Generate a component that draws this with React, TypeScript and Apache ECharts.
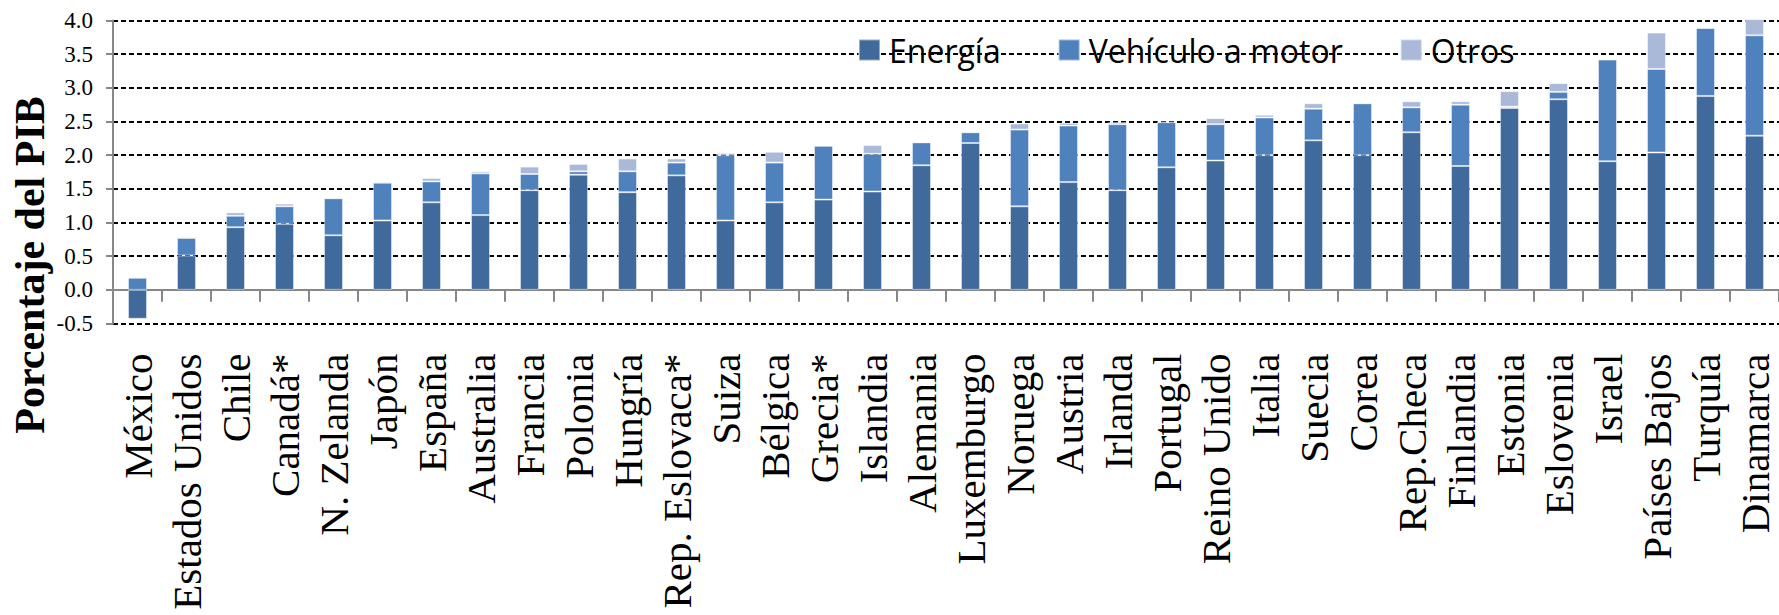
import React, { useEffect, useRef } from "react";
import * as echarts from "echarts";

// Countries ordered by total environmental tax revenue (% of GDP)
const categories = [
  "México",
  "Estados Unidos",
  "Chile",
  "Canadá*",
  "N. Zelanda",
  "Japón",
  "España",
  "Australia",
  "Francia",
  "Polonia",
  "Hungría",
  "Rep. Eslovaca*",
  "Suiza",
  "Bélgica",
  "Grecia*",
  "Islandia",
  "Alemania",
  "Luxemburgo",
  "Noruega",
  "Austria",
  "Irlanda",
  "Portugal",
  "Reino Unido",
  "Italia",
  "Suecia",
  "Corea",
  "Rep.Checa",
  "Finlandia",
  "Estonia",
  "Eslovenia",
  "Israel",
  "Países Bajos",
  "Turquía",
  "Dinamarca",
];

const energia = [
  -0.43, 0.51, 0.93, 0.98, 0.81, 1.03, 1.3, 1.11, 1.48, 1.71, 1.45, 1.7, 1.03,
  1.3, 1.34, 1.46, 1.85, 2.18, 1.24, 1.6, 1.48, 1.82, 1.92, 2.0, 2.22, 2.0,
  2.34, 1.84, 2.7, 2.83, 1.91, 2.04, 2.88, 2.29,
];

const vehiculo = [
  0.18, 0.26, 0.17, 0.26, 0.55, 0.56, 0.31, 0.62, 0.24, 0.05, 0.31, 0.19, 0.97,
  0.59, 0.8, 0.56, 0.34, 0.16, 1.14, 0.84, 0.98, 0.67, 0.54, 0.56, 0.47, 0.77,
  0.37, 0.91, 0.02, 0.11, 1.51, 1.24, 1.01, 1.49,
];

const otros = [
  0, 0.02, 0.05, 0.04, 0.01, 0.02, 0.05, 0.03, 0.11, 0.11, 0.19, 0.06, 0.03,
  0.16, 0, 0.13, 0, 0.01, 0.09, 0.04, 0.03, 0, 0.09, 0.04, 0.08, 0, 0.09, 0.05,
  0.23, 0.13, 0, 0.54, 0, 0.24,
];

const seriesNames = ["Energía", "Vehículo a motor", "Otros"];
const seriesColors = ["#416A9C", "#4F81BD", "#AAB9D8"];

const SERIF = "'Liberation Serif', 'Times New Roman', serif";
const SANS = "'Open Sans', 'Noto Sans', sans-serif";
const AXIS_GREY = "#878787";

export default function App() {
  const ref = useRef<HTMLDivElement>(null);

  useEffect(() => {
    if (!ref.current) return;
    const chart = echarts.init(ref.current, null, { renderer: "svg" });

    const barSeries = [energia, vehiculo, otros].map((values, i) => ({
      name: seriesNames[i],
      type: "bar",
      stack: "total",
      data: values,
      barWidth: 19,
      clip: false,
      itemStyle: {
        color: seriesColors[i],
        borderColor: "rgba(255,255,255,0.45)",
        borderWidth: 1,
      },
    }));

    chart.setOption({
      animation: false,
      backgroundColor: "#ffffff",
      grid: {
        left: 113,
        right: 0,
        top: 20.5,
        bottom: 291.5,
        containLabel: false,
        outerBoundsMode: "none",
      },
      legend: {
        data: seriesNames,
        left: 853,
        top: 29,
        icon: "rect",
        itemWidth: 21,
        itemHeight: 21,
        itemGap: 57,
        textStyle: {
          fontFamily: SANS,
          fontSize: 32,
          color: "#000",
          padding: [0, 0, 0, 4],
        },
      },
      xAxis: {
        type: "category",
        data: categories,
        z: 1,
        axisLine: {
          onZero: true,
          lineStyle: { color: AXIS_GREY, width: 2 },
        },
        axisTick: {
          show: true,
          interval: 0,
          length: 12,
          lineStyle: { color: AXIS_GREY, width: 2 },
        },
        axisLabel: {
          interval: 0,
          rotate: 90,
          margin: 30,
          fontFamily: SERIF,
          fontSize: 41,
          color: "#000",
        },
        splitLine: { show: false },
      },
      yAxis: {
        type: "value",
        min: -0.5,
        max: 4,
        interval: 0.5,
        axisLine: { show: true, lineStyle: { color: AXIS_GREY, width: 2 } },
        axisTick: { show: true, length: 7, lineStyle: { color: AXIS_GREY, width: 2 } },
        axisLabel: {
          margin: 20,
          fontFamily: SERIF,
          fontSize: 23,
          color: "#000",
          formatter: (v: number) => v.toFixed(1),
        },
        splitLine: {
          show: true,
          lineStyle: { color: "#000", width: 1.8, type: [5, 3] },
        },
      },
      graphic: [
        {
          type: "text",
          x: 30,
          y: 265,
          rotation: Math.PI / 2,
          style: {
            text: "Porcentaje del PIB",
            fontFamily: SERIF,
            fontWeight: "bold",
            fontSize: 42,
            fill: "#000",
            align: "center",
            verticalAlign: "middle",
          },
        },
      ],
      series: barSeries,
    });

    return () => chart.dispose();
  }, []);

  return (
    <div
      ref={ref}
      style={{
        position: "fixed",
        left: 0,
        top: 0,
        width: 1779,
        height: 615,
        background: "#fff",
      }}
    />
  );
}
